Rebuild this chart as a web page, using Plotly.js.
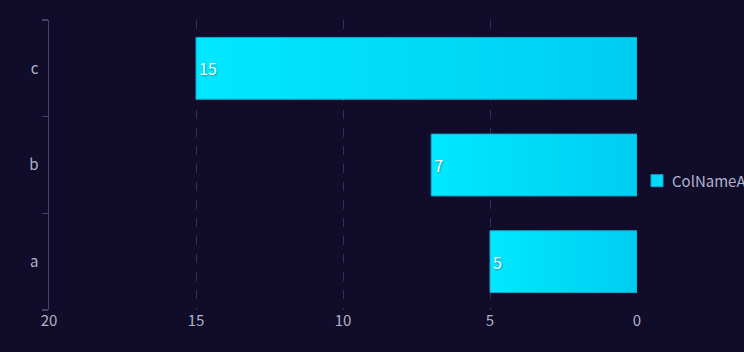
<!DOCTYPE html>
<html>
<head>
<meta charset="utf-8">
<script src="https://cdn.plot.ly/plotly-3.0.1.min.js"></script>
<style>
html,body{margin:0;padding:0;background:#100c2a;overflow:hidden;}
#chart{width:744px;height:352px;}
</style>
</head>
<body>
<div id="chart"></div>
<script>
const categories = ['a', 'b', 'c'];
const values = [5, 7, 15];
const seriesName = 'ColNameA';
const xTicks = [0, 5, 10, 15, 20];

const fontFam = '"Noto Sans CJK SC", "Noto Sans", sans-serif';
const tickColor = '#b0b3c8';

const trace = {
  type: 'bar',
  orientation: 'h',
  name: seriesName,
  y: categories,
  x: values,
  text: values.map(String),
  textposition: 'inside',
  insidetextanchor: 'end',
  textangle: 0,
  textfont: {color: '#ffffff', size: 16, family: fontFam, shadow: '1px 1px 2px rgba(0,0,0,0.35)'},
  marker: {color: '#00d9f8', line: {color: '#14a8cc', width: 1}},
  hoverinfo: 'none',
  showlegend: true
};

const layout = {
  width: 744,
  height: 352,
  paper_bgcolor: '#100c2a',
  plot_bgcolor: '#100c2a',
  margin: {l: 49, r: 107, t: 20, b: 42, autoexpand: false},
  bargap: 0.36,
  font: {family: fontFam, color: tickColor, size: 15},
  xaxis: {
    range: [20, 0],
    tickvals: xTicks,
    ticktext: xTicks.map(String),
    showgrid: true,
    gridcolor: '#2a3550',
    griddash: 'dash',
    gridwidth: 1,
    zeroline: false,
    showline: false,
    ticks: '',
    tickfont: {color: tickColor, size: 15, family: fontFam},
    fixedrange: true
  },
  yaxis: {
    type: 'category',
    categoryarray: categories,
    showgrid: false,
    zeroline: false,
    showline: true,
    linecolor: '#3b4763',
    linewidth: 1.5,
    ticks: 'outside',
    tickson: 'boundaries',
    ticklen: 6,
    tickcolor: '#3b4763',
    tickwidth: 1.5,
    ticklabelstandoff: 6,
    tickfont: {color: tickColor, size: 15, family: fontFam},
    fixedrange: true
  },
  legend: {
    x: 1.0,
    xanchor: 'left',
    y: 0.445,
    yanchor: 'middle',
    bgcolor: 'rgba(0,0,0,0)',
    font: {color: tickColor, size: 15, family: fontFam}
  },
  showlegend: true
};

Plotly.newPlot('chart', [trace], layout, {displayModeBar: false, staticPlot: true}).then(function (gd) {
  const svg = gd.querySelector('svg.main-svg');
  const ns = 'http://www.w3.org/2000/svg';
  let defs = svg.querySelector('defs');
  if (!defs) { defs = document.createElementNS(ns, 'defs'); svg.insertBefore(defs, svg.firstChild); }
  const grad = document.createElementNS(ns, 'linearGradient');
  grad.setAttribute('id', 'barGrad');
  grad.setAttribute('x1', '0'); grad.setAttribute('y1', '0');
  grad.setAttribute('x2', '1'); grad.setAttribute('y2', '0');
  [['0', '#00e8ff'], ['1', '#00cdf0']].forEach(function (s) {
    const st = document.createElementNS(ns, 'stop');
    st.setAttribute('offset', s[0]);
    st.setAttribute('stop-color', s[1]);
    grad.appendChild(st);
  });
  defs.appendChild(grad);
  gd.querySelectorAll('.barlayer .point path').forEach(function (p) {
    p.style.fill = 'url(#barGrad)';
  });
  gd.querySelectorAll('.legend .legendtext').forEach(function (t) {
    t.setAttribute('x', '35');
  });
});
</script>
</body>
</html>
